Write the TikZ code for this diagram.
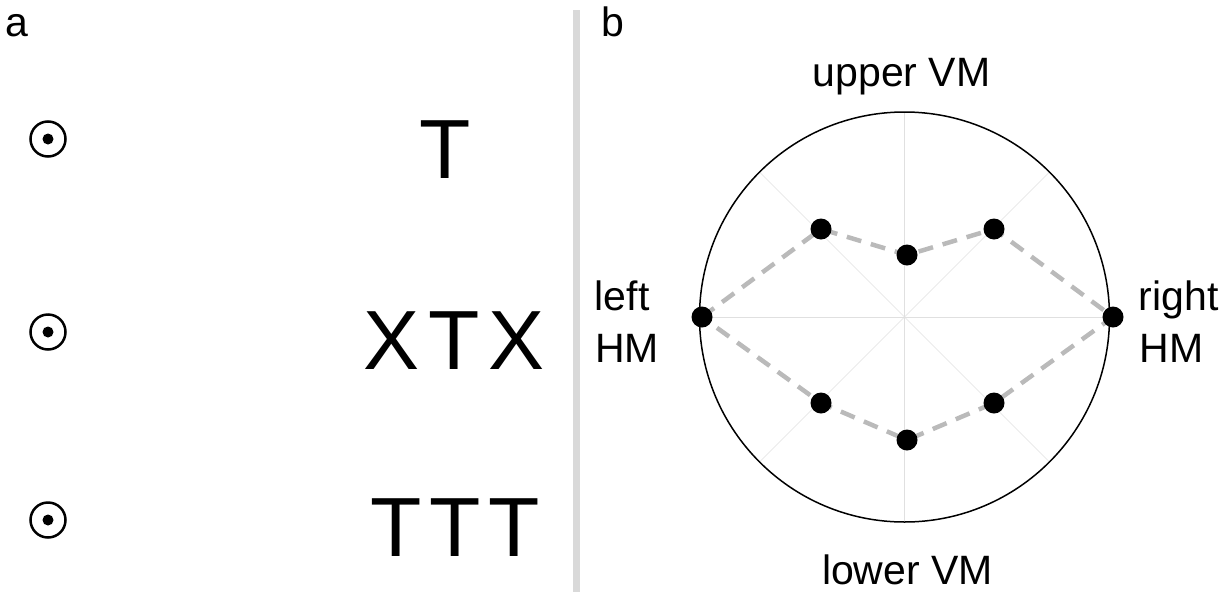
\documentclass[tikz,border=0pt]{standalone}
\usepackage{fontspec}
\setmainfont{Liberation Sans}
\begin{document}
\begin{tikzpicture}[x=1pt,y=-1pt,
  lbl/.style={inner sep=0pt,anchor=base west,font=\fontsize{41}{50}\selectfont},
  lblc/.style={inner sep=0pt,anchor=base,font=\fontsize{41}{50}\selectfont},
  big/.style={inner sep=0pt,anchor=base,font=\fontsize{84}{100}\selectfont},
  fixring/.style={circle,draw=black,line width=2.5pt,minimum size=35pt,inner sep=0pt},
  fixdot/.style={circle,fill=black,minimum size=11pt,inner sep=0pt},
  pdot/.style={circle,fill=black,minimum size=21pt,inner sep=0pt},
  gridln/.style={draw=black!12,line width=0.5pt},
  profile/.style={draw=black!27,line width=4.5pt,dash pattern=on 15pt off 10pt}]
\useasboundingbox (0,0) rectangle (1231,592);
% panel labels
\node[lbl] (la) at (5.5,36) {a};
\node[lbl] (lb) at (601,36) {b};
% divider
\fill[black!15] (573,10) rectangle (580,592);
% panel a: fixations
\foreach \n/\y in {1/139,2/332,3/520}{
  \node[fixring] (ring\n) at (48,\y) {};
  \node[fixdot] (fdot\n) at (ring\n.center) {};
}
\node[big] (s1) at (445.5,178) {T};
\node[big] (s2) at (454,369) {X\kern8.5pt T\kern8.5pt X};
\node[big] (s3) at (455,556) {T\kern8pt T\kern8pt T};
% panel b: polar plot
\coordinate (C) at (904.5,317);
\foreach \a in {0,45,...,315}{
  \draw[gridln] (C) -- ++(\a:205);
}
\draw[line width=1.5pt] (C) circle[radius=205];
\coordinate (pL) at (702,317);
\coordinate (pUL) at (821,229);
\coordinate (pU) at (907,255);
\coordinate (pUR) at (994,229);
\coordinate (pR) at (1113,317);
\coordinate (pLR) at (994,403);
\coordinate (pD) at (907,440);
\coordinate (pLL) at (821,403);
\draw[profile] (pL) -- (pUL) -- (pU) -- (pUR) -- (pR) -- (pLR) -- (pD) -- (pLL) -- cycle;
\foreach \p in {L,UL,U,UR,R,LR,D,LL}{
  \node[pdot] (d\p) at (p\p) {};
}
\node[lblc] (up) at (901.5,86) {upper VM};
\node[lblc] (lo) at (907.5,584) {lower VM};
\node[lbl] (lf1) at (594.5,310) {left};
\node[lbl] (lf2) at (595,362) {HM};
\node[lbl] (rt1) at (1138.5,310) {right};
\node[lbl] (rt2) at (1139.5,362) {HM};
\end{tikzpicture}
\end{document}
